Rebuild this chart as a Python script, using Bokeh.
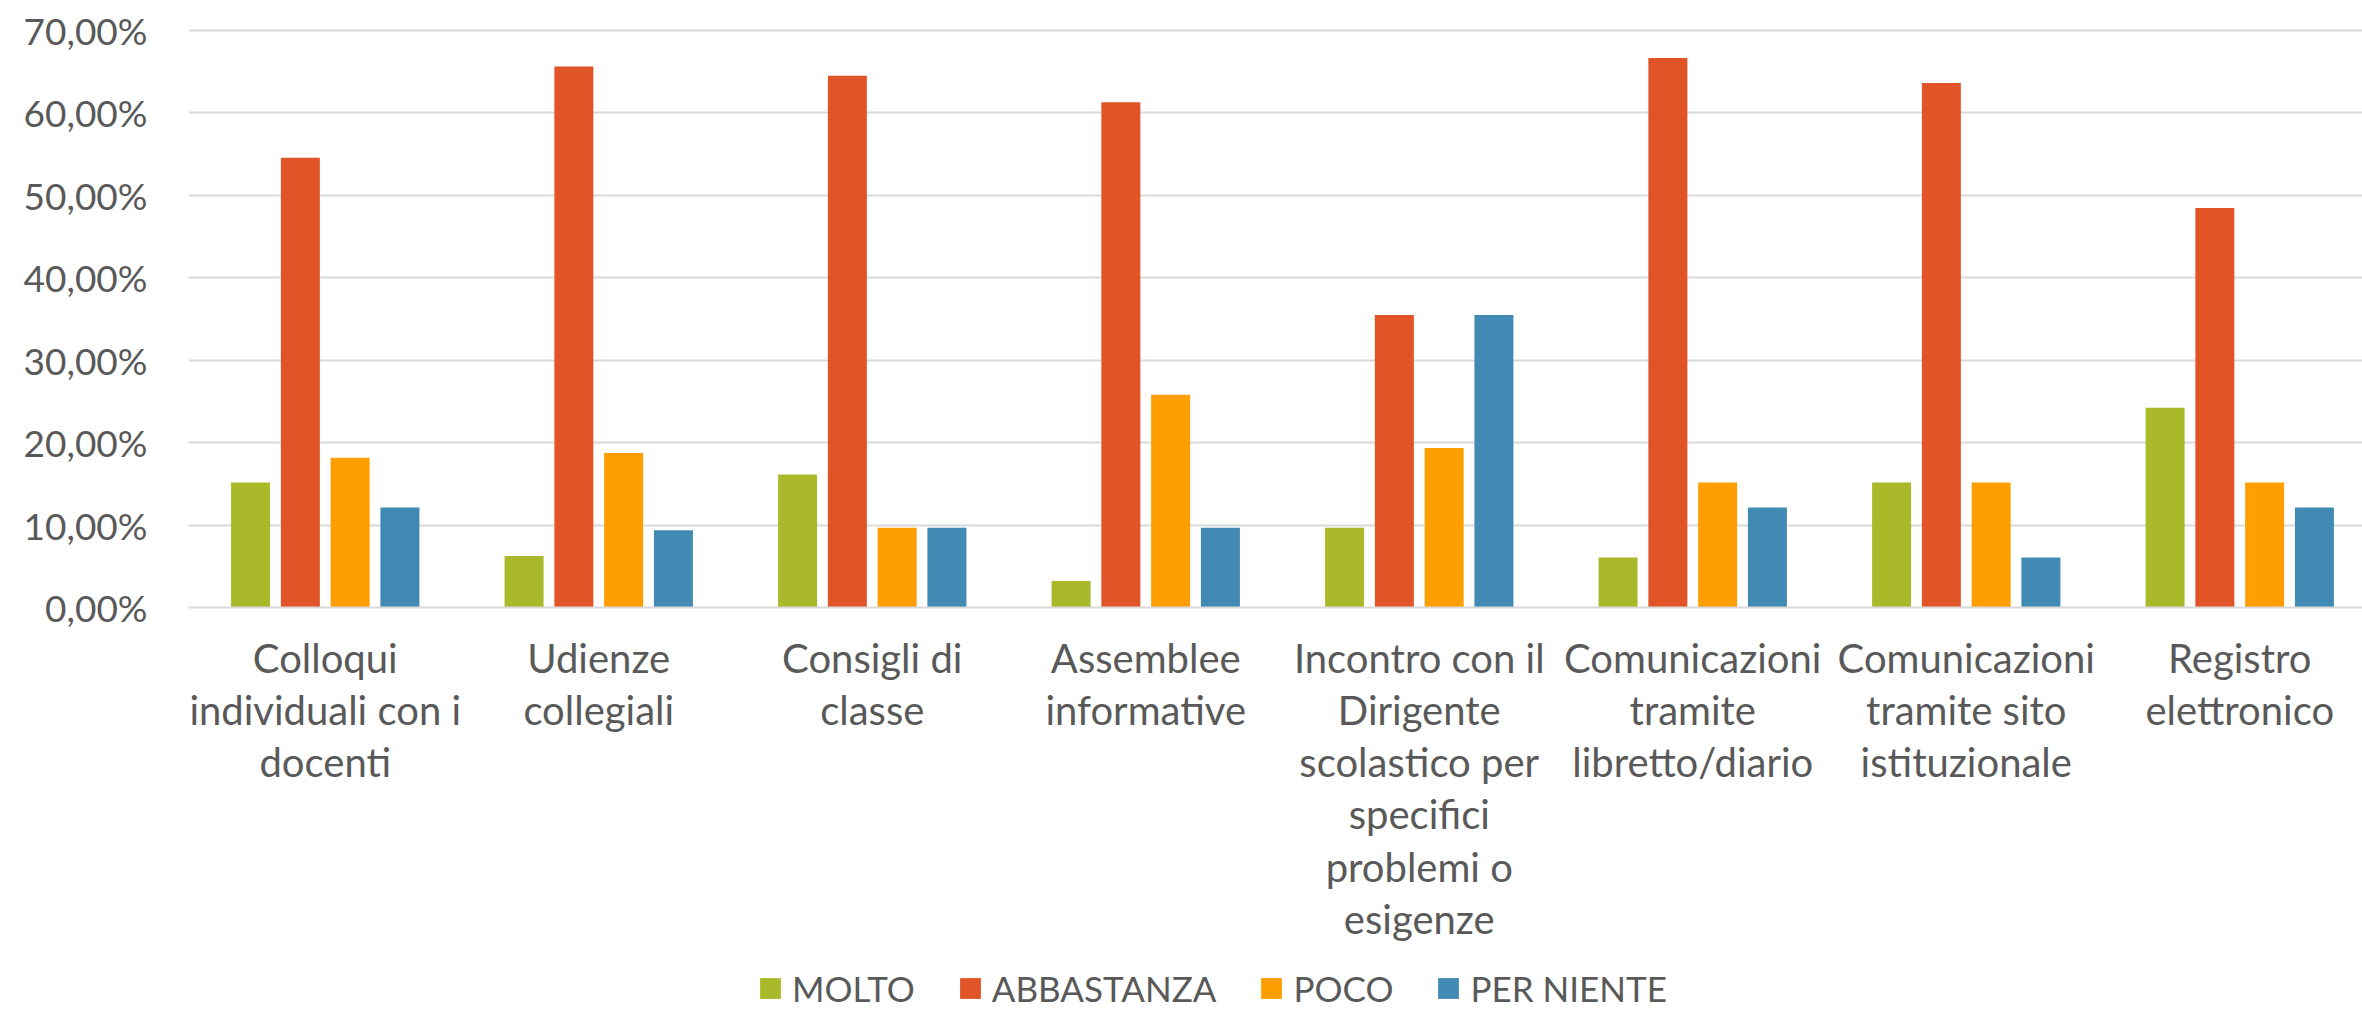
from bokeh.plotting import figure
from bokeh.layouts import column
from bokeh.models import (ColumnDataSource, Range1d, FixedTicker, Legend, LegendItem)
from bokeh.transform import dodge
from bokeh.embed import file_html
from bokeh.resources import INLINE

# ---- data ----
categories = [
    "Colloqui\nindividuali con i\ndocenti",
    "Udienze\ncollegiali",
    "Consigli di\nclasse",
    "Assemblee\ninformative",
    "Incontro con il\nDirigente\nscolastico per\nspecifici\nproblemi o\nesigenze",
    "Comunicazioni\ntramite\nlibretto/diario",
    "Comunicazioni\ntramite sito\nistituzionale",
    "Registro\nelettronico",
]
series_names = ["MOLTO", "ABBASTANZA", "POCO", "PER NIENTE"]
molto = [15.15, 6.25, 16.13, 3.23, 9.68, 6.06, 15.15, 24.24]
abbastanza = [54.55, 65.63, 64.52, 61.29, 35.48, 66.67, 63.64, 48.48]
poco = [18.18, 18.75, 9.68, 25.81, 19.35, 15.15, 15.15, 15.15]
per_niente = [12.12, 9.38, 9.68, 9.68, 35.48, 12.12, 6.06, 12.12]
y_ticks = [0, 10, 20, 30, 40, 50, 60, 70]
y_tick_labels = ["0,00%", "10,00%", "20,00%", "30,00%", "40,00%", "50,00%", "60,00%", "70,00%"]

colors = ["#A9B92A", "#E15427", "#FF9E00", "#418AB3"]
offsets = [-0.273, -0.091, 0.091, 0.273]
bar_w = 0.1426

xpos = [i + 0.5 for i in range(len(categories))]
src = ColumnDataSource(dict(x=xpos, molto=molto, abbastanza=abbastanza,
                            poco=poco, per_niente=per_niente))
cols = ["molto", "abbastanza", "poco", "per_niente"]

TEXT = "#595959"
FONT = "Lato"
W = 2362
H1 = 960
H2 = 49

p = figure(width=W, height=H1, output_backend="svg", toolbar_location=None,
           x_range=Range1d(0, 7.9488), y_range=Range1d(0, 71.214),
           min_border_left=188, min_border_right=0, min_border_top=20,
           min_border_bottom=H1 - 607)
p.outline_line_color = None
p.background_fill_color = "white"
p.border_fill_color = "white"

for col, c, off in zip(cols, colors, offsets):
    p.vbar(x=dodge("x", off, range=p.x_range), top=col, width=bar_w,
           source=src, fill_color=c, line_color=None)

# y axis
p.yaxis.ticker = FixedTicker(ticks=y_ticks)
p.yaxis.major_label_overrides = {t: l for t, l in zip(y_ticks, y_tick_labels)}
p.yaxis.axis_line_color = None
p.yaxis.major_tick_line_color = None
p.yaxis.minor_tick_line_color = None
p.yaxis.major_tick_out = 0
p.yaxis.major_tick_in = 0
p.yaxis.major_label_text_font = FONT
p.yaxis.major_label_text_font_size = "37px"
p.yaxis.major_label_text_color = TEXT
p.yaxis.major_label_standoff = 41

# x axis
p.xaxis.ticker = FixedTicker(ticks=xpos)
p.xaxis.major_label_overrides = {t: l for t, l in zip(xpos, categories)}
p.xaxis.axis_line_color = "#D9D9D9"
p.xaxis.axis_line_width = 2
p.xaxis.major_tick_line_color = None
p.xaxis.minor_tick_line_color = None
p.xaxis.major_tick_out = 0
p.xaxis.major_tick_in = 0
p.xaxis.major_label_text_font = FONT
p.xaxis.major_label_text_font_size = "40px"
p.xaxis.major_label_text_color = TEXT
p.xaxis.major_label_text_line_height = 1.09
p.xaxis.major_label_standoff = 26

p.xgrid.grid_line_color = None
p.ygrid.ticker = FixedTicker(ticks=y_ticks)
p.ygrid.grid_line_color = "#D9D9D9"
p.ygrid.grid_line_width = 2

# ---- legend strip below the chart (its frame is aligned with the chart frame) ----
lg = figure(width=W, height=H2, output_backend="svg", toolbar_location=None,
            x_range=Range1d(0, 7.9488), y_range=Range1d(0, 71.214),
            x_axis_location=None, y_axis_location=None,
            min_border_left=188, min_border_right=0, min_border_top=0, min_border_bottom=0)
lg.outline_line_color = None
lg.xgrid.grid_line_color = None
lg.ygrid.grid_line_color = None
lg.background_fill_color = "white"
lg.border_fill_color = "white"
keys = []
for col, c, off in zip(cols, colors, offsets):
    # same series, hidden: only used as legend keys
    keys.append(lg.vbar(x=dodge("x", off, range=lg.x_range), top=col, width=bar_w,
                        source=src, fill_color=c, line_color=None, visible=False))

legend = Legend(
    items=[LegendItem(label=n, renderers=[r]) for n, r in zip(series_names, keys)],
    orientation="horizontal", location=(569, 0),
    padding=0, margin=0, spacing=42, label_standoff=9,
    glyph_width=26, glyph_height=26,
    border_line_color=None, background_fill_alpha=0,
    label_text_font=FONT, label_text_font_size="35px", label_text_color=TEXT,
)
lg.add_layout(legend)

layout = column(p, lg, spacing=0)
open("out.html", "w").write(file_html(layout, INLINE))
